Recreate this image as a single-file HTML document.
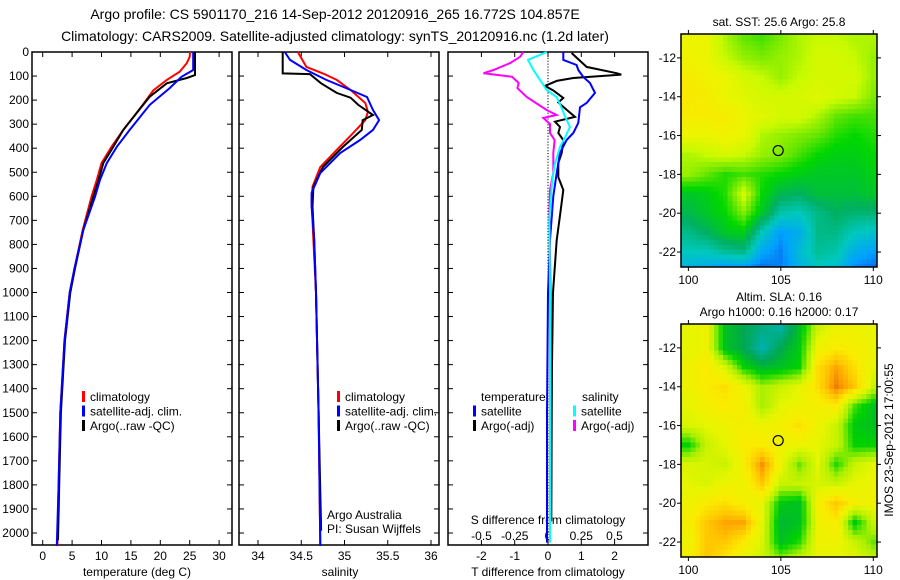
<!DOCTYPE html>
<html><head><meta charset="utf-8"><style>
html,body{margin:0;padding:0;background:#fff;}
svg{display:block;font-family:"Liberation Sans",sans-serif;}
</style></head><body>
<svg id="fig" width="900" height="580" viewBox="0 0 900 580" xmlns="http://www.w3.org/2000/svg">
<text x="335" y="19" font-size="14" text-anchor="middle">Argo profile: CS 5901170_216 14-Sep-2012 20120916_265 16.772S 104.857E</text>
<text x="335" y="41" font-size="14" text-anchor="middle">Climatology: CARS2009. Satellite-adjusted climatology: synTS_20120916.nc (1.2d later)</text>
<text x="137" y="576" font-size="12" text-anchor="middle">temperature (deg C)</text>
<text x="340" y="576" font-size="12" text-anchor="middle">salinity</text>
<text x="548" y="576" font-size="12" text-anchor="middle">T difference from climatology</text>
<text x="548" y="524" font-size="12" text-anchor="middle">S difference from climatology</text>
<text x="327" y="519" font-size="12">Argo Australia</text>
<text x="327" y="533" font-size="12">PI: Susan Wijffels</text>
<text x="779" y="26" font-size="12" text-anchor="middle">sat. SST: 25.6 Argo: 25.8</text>
<text x="779" y="301" font-size="12" text-anchor="middle">Altim. SLA: 0.16</text>
<text x="779" y="316" font-size="12" text-anchor="middle">Argo h1000: 0.16 h2000: 0.17</text>
<text transform="translate(893,440) rotate(-90)" font-size="12" text-anchor="middle">IMOS 23-Sep-2012 17:00:55</text>
</svg>
<script>
// ---------- data ----------
const depthTicks=[0,100,200,300,400,500,600,700,800,900,1000,1100,1200,1300,1400,1500,1600,1700,1800,1900,2000];
const tempTicks=[0,5,10,15,20,25,30];
const salTicks=[34,34.5,35,35.5,36];
const salTickLabels=["34","34.5","35","35.5","36"];
const tdTicks=[-2,-1,0,1,2];
const sdTicks=[-0.5,-0.25,0,0.25,0.5];
const sdTickLabels=["-0.5","-0.25","0","0.25","0.5"];

const tClimDepth=[0,20,46,82,116,160,220,254,324,394,462,532,602,740,900,1000,1200,1500,1800,2054];
const tClim=[25.05,25.0,24.5,23.3,21.1,18.8,17.0,15.96,13.7,11.7,10.0,9.2,8.3,6.8,5.4,4.6,3.7,3.0,2.7,2.5];
const tSatDepth=[0,75,103,150,220,324,394,462,532,602,740,900,1000,1200,1500,1800,2054];
const tSat=[25.6,25.6,23.6,21.6,18.2,14.8,12.6,10.9,9.75,8.9,6.9,5.4,4.6,3.7,3.0,2.7,2.4];
const tArgoDepth=[0,96,108,130,186,254,324,394,462,532,602,740,900,1000,1200,1500,1800,2030];
const tArgo=[25.9,25.9,24.5,21.1,18.2,15.96,13.7,12.0,10.3,9.5,8.6,6.9,5.5,4.7,3.8,3.1,2.8,2.6];

const sClimDepth=[0,62,89,116,158,212,249,283,337,407,478,560,615,782,1000,1500,2054];
const sClim=[34.46,34.56,34.75,34.91,35.07,35.24,35.27,35.24,35.10,34.91,34.72,34.63,34.62,34.64,34.67,34.70,34.72];
const sSatDepth=[0,33,75,116,158,187,241,283,324,366,420,503,586,643,782,1000,1500,2054];
const sSat=[34.31,34.37,34.56,34.79,35.07,35.26,35.33,35.40,35.33,35.18,34.95,34.72,34.62,34.62,34.65,34.67,34.70,34.72];
const sArgoDepth=[0,89,92,130,170,190,220,262,283,324,395,478,560,643,782,1000,1500,1990];
const sArgo=[34.285,34.285,34.6,34.73,34.91,35.07,35.16,35.33,35.21,35.20,34.98,34.75,34.64,34.63,34.65,34.67,34.70,34.73];

const dTSatDepth=[0,33,54,75,104,129,170,212,230,295,337,366,420,503,600,782,1000,1500,2040];
const dTSat=[0.46,0.46,0.86,0.91,1.06,1.26,1.41,1.16,0.96,0.91,0.76,0.56,0.36,0.26,0.16,0.06,0.0,-0.03,-0.03];
const dTArgoDepth=[4,62,88,94,108,120,141,160,191,210,240,270,290,312,337,366,420,462,520,574,680,782,1000,1300,1500,1950];
const dTArgo=[0.71,1.16,2.06,2.2,0.76,0.26,-0.09,0.16,0.46,0.31,0.56,0.81,0.21,0.36,0.31,0.46,0.41,0.31,0.31,0.46,0.36,0.26,0.15,0.12,0.11,0.1];
const dSSatDepth=[0,33,75,116,158,187,230,270,312,353,395,470,545,700,1000,1500,2040];
const dSSat=[-0.01,-0.15,-0.11,-0.06,-0.01,0.065,0.10,0.13,0.165,0.13,0.09,0.05,0.03,0.01,0.015,0.015,0.015];
const dSArgoDepth=[0,20,46,75,88,103,129,150,187,214,241,262,274,300,337,366,420,503,574,700,1000,1500,1950];
const dSArgo=[-0.185,-0.21,-0.285,-0.41,-0.485,-0.27,-0.22,-0.23,-0.16,-0.085,-0.01,0.065,-0.035,0.015,0.015,0.05,0.04,0.04,0.015,0.01,0.02,0.02,0.02];

const mapLons=[100,101,102,103,104,105,106,107,108,109,110];
const mapLats=[-11,-12,-13,-14,-15,-16,-17,-18,-19,-20,-21,-22,-23];
const sstGrid=[
[26.0,26.0,25.6,25.3,25.2,25.4,25.6,25.7,25.7,25.6,25.6],
[26.1,26.0,25.7,25.5,25.4,25.5,25.6,25.8,25.8,25.7,25.5],
[26.2,26.1,26.0,25.8,25.7,25.5,25.7,25.8,25.8,25.8,25.5],
[26.3,26.2,26.0,25.9,25.8,25.8,25.8,25.9,25.8,25.7,25.4],
[26.2,26.2,26.2,26.0,25.9,25.8,25.8,25.6,25.3,25.2,25.2],
[26.0,26.0,26.1,26.0,25.6,25.5,25.4,25.3,25.1,25.0,25.1],
[25.6,25.7,25.8,25.7,25.5,25.4,25.2,25.0,24.9,24.9,25.0],
[25.5,25.3,25.1,25.2,25.1,25.0,24.9,24.8,24.8,24.8,24.9],
[24.8,24.9,25.1,25.8,25.0,24.6,24.5,24.7,24.7,24.7,24.8],
[24.6,24.8,25.0,25.4,24.8,24.1,24.0,24.3,24.5,24.4,24.4],
[24.3,24.5,24.8,24.9,24.0,23.4,23.6,24.3,24.3,24.0,23.9],
[24.0,24.0,24.2,24.3,23.5,23.2,23.8,24.2,24.1,23.6,23.4],
[23.6,23.5,23.2,23.2,23.0,23.2,23.6,23.9,23.8,23.2,23.0]];
const slaGrid=[
[0.14,0.15,0.03,0.00,-0.03,-0.05,0.03,0.12,0.15,0.15,0.14],
[0.14,0.15,0.03,0.00,-0.06,0.00,0.04,0.15,0.17,0.16,0.15],
[0.15,0.17,0.13,0.05,0.02,0.03,0.05,0.18,0.22,0.18,0.14],
[0.15,0.17,0.18,0.15,0.10,0.12,0.14,0.18,0.24,0.20,0.12],
[0.14,0.16,0.17,0.16,0.10,0.14,0.15,0.16,0.17,0.07,0.03],
[0.13,0.14,0.15,0.16,0.15,0.16,0.18,0.15,0.12,0.04,0.03],
[0.05,0.12,0.14,0.17,0.17,0.15,0.15,0.14,0.12,0.05,0.05],
[0.13,0.13,0.12,0.16,0.23,0.15,0.08,0.14,0.06,0.12,0.14],
[0.14,0.13,0.15,0.15,0.20,0.12,0.12,0.13,0.12,0.14,0.15],
[0.15,0.17,0.18,0.16,0.14,0.04,0.03,0.16,0.20,0.16,0.15],
[0.16,0.20,0.22,0.22,0.14,0.02,0.03,0.15,0.17,0.04,0.12],
[0.15,0.20,0.20,0.17,0.13,0.03,0.06,0.15,0.15,0.12,0.08],
[0.16,0.20,0.17,0.14,0.12,0.10,0.13,0.14,0.14,0.14,0.12]];
const mapLonTicks=[100,105,110];
const mapLatTicks=[-12,-14,-16,-18,-20,-22];
const argoLon=104.857, argoLat=-16.772;

// ---------- drawing ----------
const NS="http://www.w3.org/2000/svg";
const svg=document.getElementById('fig');
function mk(tag,attrs,parent){const e=document.createElementNS(NS,tag);for(const k in attrs)e.setAttribute(k,attrs[k]);(parent||svg).appendChild(e);return e;}
const Y0=52, YPX=0.2405;
const yD=d=>Y0+d*YPX;
const PTOP=52, PBOT=545;

function panelFrame(name,x0,x1){
  const g=mk('g',{});
  
  
  const r=mk('rect',{x:x0,y:PTOP,width:x1-x0,height:PBOT-PTOP,fill:'none',stroke:'#000','stroke-width':1.5},g);
  
  
  depthTicks.forEach(d=>{
    mk('line',{x1:x0,x2:x0+5,y1:yD(d),y2:yD(d),stroke:'#000'},g);
    mk('line',{x1:x1,x2:x1-5,y1:yD(d),y2:yD(d),stroke:'#000'},g);
  });
  return g;
}
function xTicks(g,vals,labels,xf,yLab,both){
  vals.forEach((v,i)=>{
    const x=xf(v);
    mk('line',{x1:x,x2:x,y1:PBOT,y2:PBOT-5,stroke:'#000'},g);
    if(both) mk('line',{x1:x,x2:x,y1:PTOP,y2:PTOP+5,stroke:'#000'},g);
    if(labels){const t=mk('text',{x:x,y:yLab,'font-size':12,'text-anchor':'middle'},g);t.textContent=labels[i];
      
      }
  });
}
function line(g,name,xs,ds,xf,color,w){
  const pts=xs.map((v,i)=>xf(v).toFixed(1)+','+yD(ds[i]).toFixed(1)).join(' ');
  const p=mk('polyline',{points:pts,fill:'none',stroke:color,'stroke-width':w||2,'stroke-linejoin':'miter'},g);
  
  
}
function legend(g,x,y,items){
  items.forEach((it,i)=>{
    const yy=y+i*14.5;
    if(it.c){const m=mk('rect',{x:x,y:yy-10,width:3,height:11,fill:it.c},g);
      
      }
    const t=mk('text',{x:x+(it.c?8:0),y:yy,'font-size':12},g);t.textContent=it.t;
    
    
  });
}

const yax=mk('g',{});


depthTicks.forEach(d=>{const t=mk('text',{x:29,y:yD(d)+4,'font-size':12,'text-anchor':'end'},yax);t.textContent=String(d);
  
  });

const xT=v=>42.7+v*5.88;
const p1=panelFrame('temperature-panel',32,232);
xTicks(p1,tempTicks,tempTicks.map(String),xT,560,true);
line(p1,'temperature-climatology-line',tClim,tClimDepth,xT,'#f00');
line(p1,'temperature-argo-line',tArgo,tArgoDepth,xT,'#000');
line(p1,'temperature-satellite-line',tSat,tSatDepth,xT,'#00f');
legend(p1,82,401,[{t:'climatology',c:'#f00'},{t:'satellite-adj. clim.',c:'#00f'},{t:'Argo(..raw -QC)',c:'#000'}]);

const xS=v=>258+(v-34)*86.5;
const p2=panelFrame('salinity-panel',239,439);
xTicks(p2,salTicks,salTickLabels,xS,560,true);
line(p2,'salinity-climatology-line',sClim,sClimDepth,xS,'#f00');
line(p2,'salinity-argo-line',sArgo,sArgoDepth,xS,'#000');
line(p2,'salinity-satellite-line',sSat,sSatDepth,xS,'#00f');
legend(p2,337,401,[{t:'climatology',c:'#f00'},{t:'satellite-adj. clim.',c:'#00f'},{t:'Argo(..raw -QC)',c:'#000'}]);

const xDT=v=>548+v*33.3;
const xDS=v=>548+v*133;
const p3=panelFrame('difference-panel',448,648);
xTicks(p3,tdTicks,tdTicks.map(String),xDT,560,true);
sdTicks.forEach((v,i)=>{const t=mk('text',{x:xDS(v),y:540,'font-size':12,'text-anchor':'middle'},p3);t.textContent=sdTickLabels[i];
  
  });
for(let d=0;d<=2050;d+=12){mk('rect',{x:547.5,y:yD(d),width:1,height:1.2,fill:'#000'},p3);}
line(p3,'t-diff-argo-line',dTArgo,dTArgoDepth,xDT,'#000',2);
line(p3,'t-diff-satellite-line',dTSat,dTSatDepth,xDT,'#00f',2);
line(p3,'s-diff-argo-line',dSArgo,dSArgoDepth,xDS,'#f0f',2);
line(p3,'s-diff-satellite-line',dSSat,dSSatDepth,xDS,'#0ff',2);
legend(p3,473,401,[{t:'temperature'},{t:'satellite',c:'#00f'},{t:'Argo(-adj)',c:'#000'}]);
legend(p3,573,401,[{t:' salinity'},{t:'satellite',c:'#0ff'},{t:'Argo(-adj)',c:'#f0f'}]);
p3.querySelectorAll('text').forEach(t=>{if(t.textContent==='temperature')t.setAttribute('x',481);if(t.textContent===' salinity')t.setAttribute('x',582);});

// ---------- maps ----------
function lerpColor(stops,v){
  if(v<=stops[0][0])return 'rgb('+stops[0][1].join(',')+')';
  for(let i=1;i<stops.length;i++){if(v<=stops[i][0]){const a=stops[i-1],b=stops[i];const f=(v-a[0])/(b[0]-a[0]);
    const ca=a[1],cb=b[1];return 'rgb('+[0,1,2].map(k=>Math.round(ca[k]+(cb[k]-ca[k])*f)).join(',')+')';}}
  return 'rgb('+stops[stops.length-1][1].join(',')+')';
}
const sstStops=[[22.9,[16,80,230]],[23.4,[0,160,255]],[24.0,[0,200,190]],[24.5,[0,176,96]],[25.0,[0,215,0]],[25.3,[100,230,0]],[25.7,[200,250,0]],[26.0,[235,245,0]],[26.3,[250,232,0]]];
const slaStops=[[-0.1,[0,180,255]],[-0.05,[0,176,160]],[0.0,[0,168,80]],[0.05,[0,210,0]],[0.1,[170,240,0]],[0.14,[230,245,0]],[0.17,[250,235,0]],[0.20,[255,200,0]],[0.22,[255,165,0]],[0.25,[230,110,0]]];
function gridVal(grid,lat,lon){
  let fi=Math.min(12,Math.max(0,-11-lat)), fj=Math.min(10,Math.max(0,lon-100));
  const i0=Math.min(11,Math.floor(fi)), j0=Math.min(9,Math.floor(fj));
  const a=fi-i0, b=fj-j0;
  return grid[i0][j0]*(1-a)*(1-b)+grid[i0][j0+1]*(1-a)*b+grid[i0+1][j0]*a*(1-b)+grid[i0+1][j0+1]*a*b;
}
function drawMap(name,grid,stops,top,bot,latTop,latBot){
  const L=681,R=877,lonL=99.6,lonR=110.2;
  const xL=v=>L+(v-lonL)*(R-L)/(lonR-lonL);
  const yL=v=>top+(latTop-v)*(bot-top)/(latTop-latBot);
  const g=mk('g',{});
  
  
  const cid=name+'-clip';
  const cp=mk('clipPath',{id:cid},g);mk('rect',{x:L,y:top,width:R-L,height:bot-top},cp);
  const cells=mk('g',{'clip-path':'url(#'+cid+')','shape-rendering':'crispEdges'},g);
  const st=0.25;
  for(let lat=-10.75;lat>=-23;lat-=st){
    for(let lon=99.5;lon<=110.25;lon+=st){
      const c=lerpColor(stops,gridVal(grid,lat,lon));
      const r=mk('rect',{x:xL(lon-st/2).toFixed(1),y:yL(lat+st/2).toFixed(1),width:(xL(lon+st/2)-xL(lon-st/2)+0.6).toFixed(1),height:(yL(lat-st/2)-yL(lat+st/2)+0.6).toFixed(1),fill:c},cells);
      
      
    }
  }
  mk('rect',{x:L,y:top,width:R-L,height:bot-top,fill:'none',stroke:'#000','stroke-width':1.5},g);
  mapLonTicks.forEach(v=>{const x=xL(v);
    mk('line',{x1:x,x2:x,y1:bot,y2:bot+4,stroke:'#000'},g);mk('line',{x1:x,x2:x,y1:top,y2:top-4,stroke:'#000'},g);
    const t=mk('text',{x:x,y:bot+17,'font-size':12,'text-anchor':'middle'},g);t.textContent=String(v);
    
    });
  mapLatTicks.forEach(v=>{const y=yL(v);
    mk('line',{x1:L,x2:L-4,y1:y,y2:y,stroke:'#000'},g);mk('line',{x1:R,x2:R+4,y1:y,y2:y,stroke:'#000'},g);
    const t=mk('text',{x:676,y:y+4,'font-size':12,'text-anchor':'end'},g);t.textContent=String(v);
    
    });
  const c=mk('circle',{cx:xL(argoLon),cy:yL(argoLat),r:5,fill:'none',stroke:'#000','stroke-width':1.2},g);
  
  
}
drawMap('sst-map',sstGrid,sstStops,34,267,-10.77,-22.77);
drawMap('sla-map',slaGrid,slaStops,324,557,-10.77,-22.77);
</script>
</body></html>
